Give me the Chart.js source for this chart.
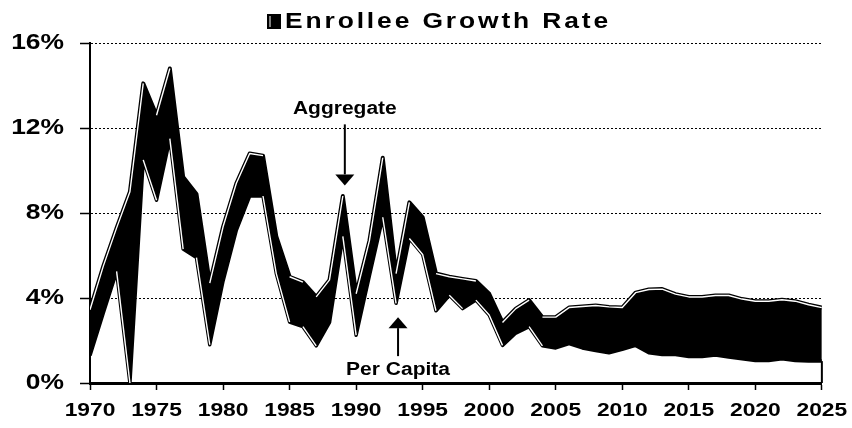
<!DOCTYPE html>
<html>
<head>
<meta charset="utf-8">
<script src="https://cdn.jsdelivr.net/npm/chart.js@4"></script>
<style>
  html, body { margin: 0; padding: 0; background: #fff; }
  #wrap { width: 852px; height: 428px; }
</style>
</head>
<body>
<div id="wrap"><canvas id="growthChart" width="852" height="428"></canvas></div>
<script>
// ---- data ----
const years = [
  1970, 1971, 1972, 1973, 1974, 1975, 1976, 1977, 1978, 1979,
  1980, 1981, 1982, 1983, 1984, 1985, 1986, 1987, 1988, 1989,
  1990, 1991, 1992, 1993, 1994, 1995, 1996, 1997, 1998, 1999,
  2000, 2001, 2002, 2003, 2004, 2005, 2006, 2007, 2008, 2009,
  2010, 2011, 2012, 2013, 2014, 2015, 2016, 2017, 2018, 2019,
  2020, 2021, 2022, 2023, 2024, 2025
];

// Aggregate enrollee growth (%)
const aggregate = [
  3.45, 5.5, 7.3, 9.0, 14.1, 12.6, 14.8, 9.7, 8.9, 4.7,
  7.35, 9.4, 10.8, 10.7, 6.9, 5.0, 4.75, 4.05, 4.85, 8.8,
  4.2, 6.7, 10.6, 5.15, 8.5, 7.8, 5.15, 5.0, 4.9, 4.8,
  4.2, 2.85, 3.5, 3.9, 3.1, 3.1, 3.55, 3.6, 3.65, 3.58,
  3.55, 4.25, 4.4, 4.42, 4.18, 4.05, 4.05, 4.12, 4.12, 3.95,
  3.85, 3.85, 3.92, 3.85, 3.68, 3.55
];

// Per capita enrollee growth (%)
const perCapita = [
  1.3, 3.3, 5.25, 0.0, 10.5, 8.6, 11.5, 6.3, 5.9, 1.8,
  4.8, 7.2, 8.8, 8.8, 5.15, 2.87, 2.65, 1.75, 2.85, 6.9,
  2.25, 5.05, 7.8, 3.75, 6.8, 6.05, 3.4, 4.13, 3.5, 3.9,
  3.2, 1.77, 2.35, 2.65, 1.75, 1.65, 1.85, 1.65, 1.53, 1.42,
  1.58, 1.77, 1.42, 1.34, 1.34, 1.25, 1.25, 1.32, 1.22, 1.14,
  1.06, 1.06, 1.14, 1.06, 1.03, 1.03
];

const yTicks = [0, 4, 8, 12, 16];
const xTickStep = 5;

const TITLE = "Enrollee Growth Rate";
const AGG_LABEL = "Aggregate";
const PC_LABEL = "Per Capita";
// where the two arrows point (year, %)
const aggArrowAt = [1989.15, 9.3];
const pcArrowAt = [1993.15, 3.1];

const FONT = '"Liberation Sans", Arial, sans-serif';
const TEXT_STRETCH = 1.2;   // the reference's lettering is drawn wide

const toPoints = vals => years.map((y, i) => ({ x: y, y: vals[i] }));

// all text in the picture is horizontally stretched
const stretchText = {
  id: "stretchText",
  beforeDraw(chart) {
    const ctx = chart.ctx;
    if (ctx.__stretched) return;
    const orig = ctx.fillText.bind(ctx);
    ctx.fillText = function (text, x, y) {
      ctx.save();
      ctx.translate(x, y);
      ctx.scale(TEXT_STRETCH, 1);
      orig(text, 0, 0);
      ctx.restore();
    };
    ctx.__stretched = true;
  }
};

function drawArrow(ctx, x, tipY, dir, shaft) {
  // dir = 1 -> points down, -1 -> points up
  const headH = 11, headW = 9.5;
  const baseY = tipY - dir * headH;
  ctx.beginPath();
  ctx.moveTo(x, tipY);
  ctx.lineTo(x - headW, baseY);
  ctx.lineTo(x + headW, baseY);
  ctx.closePath();
  ctx.fill();
  ctx.fillRect(x - 1, Math.min(baseY, baseY - dir * shaft), 2, shaft);
}

const decorations = {
  id: "decorations",
  afterDatasetsDraw(chart) {
    // closing edge of the area at the last year
    const { ctx, scales: { x, y } } = chart;
    const last = years.length - 1;
    const px = x.getPixelForValue(years[last]);
    ctx.save();
    ctx.strokeStyle = "#000";
    ctx.lineWidth = 2;
    ctx.beginPath();
    ctx.moveTo(px, y.getPixelForValue(perCapita[last]));
    ctx.lineTo(px, y.getPixelForValue(0));
    ctx.stroke();
    ctx.restore();
  },
  afterDraw(chart) {
    const { ctx, scales: { x, y } } = chart;
    ctx.save();
    ctx.fillStyle = "#000";

    // title with its key box
    ctx.fillRect(267, 14, 14, 15);
    ctx.fillStyle = "#fff";
    ctx.fillRect(269.5, 16, 1, 11);
    ctx.fillStyle = "#000";
    ctx.font = "bold 22px " + FONT;
    ctx.letterSpacing = "2.4px";
    ctx.textAlign = "left";
    ctx.textBaseline = "middle";
    ctx.fillText(TITLE, 285, 22);
    ctx.letterSpacing = "0px";

    // annotations
    ctx.font = "bold 17.5px " + FONT;
    ctx.textAlign = "center";
    const ax = x.getPixelForValue(aggArrowAt[0]);
    const ay = y.getPixelForValue(aggArrowAt[1]);
    drawArrow(ctx, ax, ay, 1, 50);
    ctx.fillText(AGG_LABEL, ax, ay - 76);

    const cx = x.getPixelForValue(pcArrowAt[0]);
    const cy = y.getPixelForValue(pcArrowAt[1]);
    drawArrow(ctx, cx, cy, -1, 28);
    ctx.fillText(PC_LABEL, cx, cy + 53);
    ctx.restore();
  }
};

const clear = "rgba(0,0,0,0)";

new Chart(document.getElementById("growthChart"), {
  type: "line",
  data: {
    datasets: [
      {
        label: "Aggregate",
        data: toPoints(aggregate),
        borderColor: "#000",
        borderWidth: 4,
        backgroundColor: "#000",
        fill: "+1",
        order: 4
      },
      {
        label: "Per Capita",
        data: toPoints(perCapita),
        borderColor: "#000",
        borderWidth: 3.5,
        fill: false,
        order: 3
      },
      {
        // white highlight on the aggregate line
        label: "Aggregate highlight",
        data: toPoints(aggregate),
        borderWidth: 1.4,
        borderColor: "#fff",
        segment: {
          borderColor: c => (c.p1.parsed.y - c.p0.parsed.y > -0.5 ? "#fff" : clear)
        },
        fill: false,
        order: 2
      },
      {
        // white highlight on falling stretches of the per capita line
        label: "Per Capita highlight",
        data: toPoints(perCapita),
        borderWidth: 1.4,
        borderColor: clear,
        segment: {
          borderColor: c => (c.p1.parsed.y - c.p0.parsed.y < -0.5 ? "#fff" : clear)
        },
        fill: false,
        order: 1
      }
    ]
  },
  options: {
    responsive: false,
    animation: false,
    events: [],
    elements: {
      point: { radius: 0 },
      line: { tension: 0, borderJoinStyle: "round", capBezierPoints: false }
    },
    layout: { padding: { top: 43, right: 25, left: 0, bottom: 0 } },
    plugins: {
      legend: { display: false },
      tooltip: { enabled: false },
      filler: { drawTime: "beforeDatasetsDraw" }
    },
    scales: {
      x: {
        type: "linear",
        min: years[0],
        max: years[years.length - 1],
        afterFit: s => { s.height = 45; },
        ticks: {
          stepSize: xTickStep,
          callback: v => String(v),
          color: "#000",
          padding: 9,
          maxRotation: 0,
          font: { family: FONT, size: 19, weight: "bold" }
        },
        grid: {
          drawOnChartArea: false,
          drawTicks: true,
          tickLength: 7,
          tickColor: "#000",
          tickWidth: 1.5
        },
        border: { display: true, color: "#000", width: 3 }
      },
      y: {
        min: yTicks[0],
        max: yTicks[yTicks.length - 1],
        afterFit: s => { s.width = 90; },
        afterBuildTicks: s => { s.ticks = yTicks.map(v => ({ value: v })); },
        ticks: {
          callback: v => v + "%",
          color: "#000",
          padding: 16,
          font: { family: FONT, size: 22, weight: "bold" }
        },
        grid: {
          color: c => (c.tick && c.tick.value === 0 ? clear : "#000"),
          lineWidth: 1,
          tickLength: 10,
          tickColor: "#000",
          tickWidth: 1.5,
          tickBorderDash: [1, 0]
        },
        border: { display: true, color: "#000", width: 2, dash: [2, 2] }
      }
    }
  },
  plugins: [stretchText, decorations]
});
</script>
</body>
</html>
